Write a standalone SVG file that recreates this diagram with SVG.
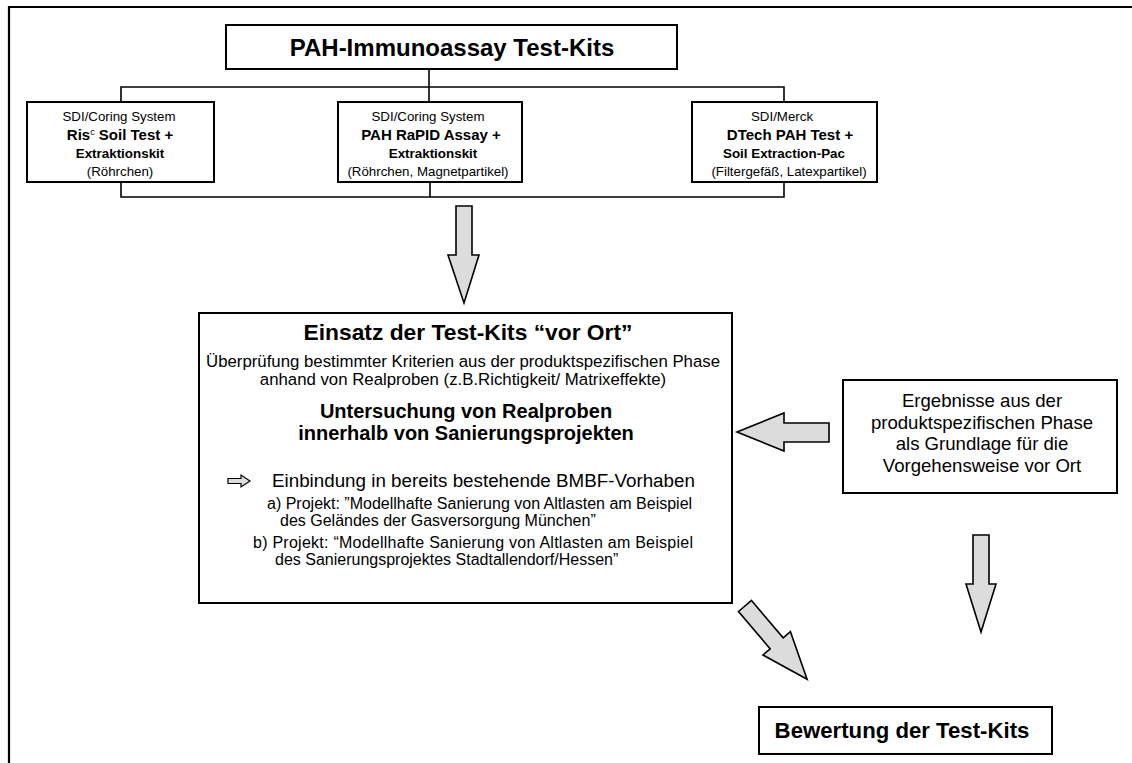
<svg xmlns="http://www.w3.org/2000/svg" width="1132" height="763" viewBox="0 0 1132 763">
<style>
text{font-family:"Liberation Sans",Arial,sans-serif;fill:#000}
.box{fill:#fff;stroke:#000;stroke-width:2}
.ln{fill:none;stroke:#000;stroke-width:1.6}
.arr{fill:#dcdcdc;stroke:#000;stroke-width:1.6;stroke-linejoin:miter}
.c{text-anchor:middle}
.b{font-weight:bold}
</style>
<rect width="1132" height="763" fill="#fff"/>
<g id="frame"><path d="M9,763 V7 H1132" fill="none" stroke="#000" stroke-width="2.2"/></g>
<g id="connectors">
<path class="ln" d="M429,69 V102 M121,102 V87 H784 V102"/>
<path class="ln" d="M121,182 V197 H784 V182 M430,182 V197"/>
<polygon class="arr" points="456,206 472,206 472,255 479,255 464,303 448,255 456,255"/>
<polygon class="arr" points="737,432 784,413 784,423 829,423 829,442 784,442 784,451"/>
<polygon class="arr" points="973,535 989,535 989,584 996,584 981,632 966,584 973,584"/>
<polygon class="arr" points="0,-8.5 49,-8.5 49,-18 96,0 49,18 49,8.5 0,8.5" transform="translate(745,606) rotate(49.7)"/>
</g>
<g id="title">
<rect class="box" x="226" y="25" width="451" height="44"/>
<text class="c b" x="452" y="56" font-size="24">PAH-Immunoassay Test-Kits</text>
</g>
<g id="kit1">
<rect class="box" x="27" y="102" width="187" height="80"/>
<text class="c" x="119" y="120.5" font-size="13.3">SDI/Coring System</text>
<text class="c b" x="120" y="139.5" font-size="15">Ris<tspan font-size="9" font-weight="normal" dy="-5">c</tspan><tspan dy="5"> Soil Test +</tspan></text>
<text class="c b" x="120" y="158" font-size="13.4">Extraktionskit</text>
<text class="c" x="120" y="176" font-size="13.3">(Röhrchen)</text>
</g>
<g id="kit2">
<rect class="box" x="338" y="102" width="184" height="80"/>
<text class="c" x="428" y="120.5" font-size="13.3">SDI/Coring System</text>
<text class="c b" x="431" y="139.5" font-size="15">PAH RaPID Assay +</text>
<text class="c b" x="433" y="158" font-size="13.4">Extraktionskit</text>
<text class="c" x="428" y="176" font-size="13.3">(Röhrchen, Magnetpartikel)</text>
</g>
<g id="kit3">
<rect class="box" x="692" y="102" width="185" height="80"/>
<text class="c" x="782" y="120.5" font-size="13.3">SDI/Merck</text>
<text class="c b" x="790" y="139.5" font-size="15">DTech PAH Test +</text>
<text class="c b" x="784" y="158" font-size="13.4">Soil Extraction-Pac</text>
<text class="c" x="789" y="176" font-size="13.3">(Filtergefäß, Latexpartikel)</text>
</g>
<g id="einsatz">
<rect class="box" x="199" y="313" width="533" height="290"/>
<text class="c b" x="468" y="340" font-size="22.8">Einsatz der Test-Kits “vor Ort”</text>
<text class="c" x="463" y="367" font-size="16.8">Überprüfung bestimmter Kriterien aus der produktspezifischen Phase</text>
<text class="c" x="463" y="385" font-size="16.8">anhand von Realproben (z.B.Richtigkeit/ Matrixeffekte)</text>
<text class="c b" x="466" y="418" font-size="20">Untersuchung von Realproben</text>
<text class="c b" x="466" y="440" font-size="20">innerhalb von Sanierungsprojekten</text>
<polygon points="228,478.5 241,478.5 241,475 250,481 241,487 241,483.5 228,483.5" fill="#dcdcdc" stroke="#000" stroke-width="1.2"/>
<text x="272" y="487" font-size="18.8">Einbindung in bereits bestehende BMBF-Vorhaben</text>
<text x="267" y="509" font-size="16">a) Projekt: ”Modellhafte Sanierung von Altlasten am Beispiel</text>
<text x="280" y="526" font-size="16">des Geländes der Gasversorgung München”</text>
<text x="253" y="548" font-size="16" textLength="440" lengthAdjust="spacing">b) Projekt: “Modellhafte Sanierung von Altlasten am Beispiel</text>
<text x="275" y="565" font-size="16">des Sanierungsprojektes Stadtallendorf/Hessen”</text>
</g>
<g id="ergebnisse">
<rect class="box" x="843" y="380" width="274" height="113"/>
<text class="c" x="982" y="407" font-size="18.6">Ergebnisse aus der</text>
<text class="c" x="982" y="428.5" font-size="18.6">produktspezifischen Phase</text>
<text class="c" x="982" y="450" font-size="18.6">als Grundlage für die</text>
<text class="c" x="982" y="471.5" font-size="18.6">Vorgehensweise vor Ort</text>
</g>
<g id="bewertung">
<rect class="box" x="759" y="707" width="293" height="47"/>
<text class="c b" x="902" y="738" font-size="22.2">Bewertung der Test-Kits</text>
</g>
</svg>
